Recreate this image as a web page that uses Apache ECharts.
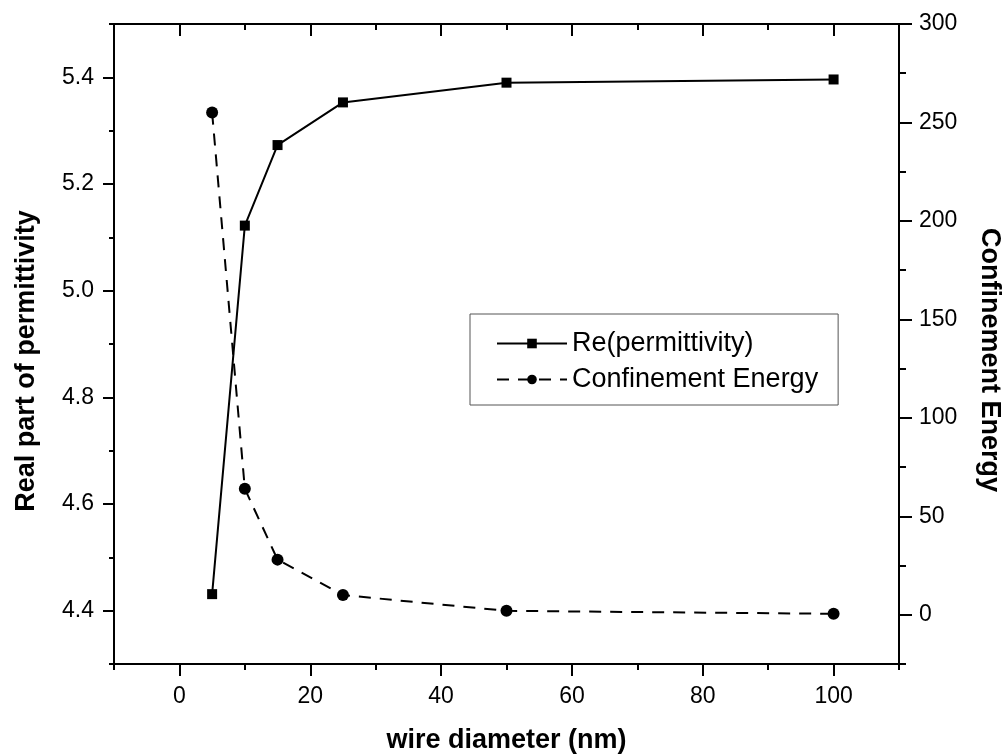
<!DOCTYPE html>
<html>
<head>
<meta charset="utf-8">
<script src="https://cdn.jsdelivr.net/npm/echarts@6/dist/echarts.min.js"></script>
<style>
html,body{margin:0;padding:0;background:#fff;}
#chart{width:1005px;height:756px;}
</style>
</head>
<body>
<div id="chart"></div>
<script>
// ---- data ----
const diameters = [5, 10, 15, 25, 50, 100];
const rePermittivity = [4.431, 5.122, 5.273, 5.353, 5.390, 5.396];
const confinementEnergy = [255, 64, 28, 10, 2, 0.5];

// ---- axes / ticks ----
const xRange = [-10, 110];
const xMajorTicks = [0, 20, 40, 60, 80, 100];
const xMinorTicks = [-10, 10, 30, 50, 70, 90, 110];
const leftRange = [4.3, 5.5];
const leftMajorTicks = [4.4, 4.6, 4.8, 5.0, 5.2, 5.4];
const leftMinorTicks = [4.3, 4.5, 4.7, 4.9, 5.1, 5.3, 5.5];
const rightRange = [-25, 300];
const rightMajorTicks = [0, 50, 100, 150, 200, 250, 300];
const rightMinorTicks = [-25, 25, 75, 125, 175, 225, 275];

const FONT = '"Liberation Sans", Arial, sans-serif';
const BLACK = '#000';
const TICK_FONT = 23;
const TITLE_FONT = 27;

function pairs(xs, ys) { return xs.map((x, i) => [x, ys[i]]); }

function xAxisDef(position, ticks, len, inside, showLine, labels) {
  return {
    type: 'value', position: position, min: xRange[0], max: xRange[1],
    axisLine: { show: showLine, onZero: false, lineStyle: { color: BLACK, width: 2 } },
    axisTick: { show: true, inside: inside, length: len, customValues: ticks, lineStyle: { color: BLACK, width: 2 } },
    axisLabel: labels ? { show: true, customValues: ticks, margin: 21, color: BLACK, fontSize: TICK_FONT, fontFamily: FONT } : { show: false },
    splitLine: { show: false }
  };
}
function yAxisDef(position, range, ticks, len, showLine, labels, fmt) {
  return {
    type: 'value', position: position, min: range[0], max: range[1],
    axisLine: { show: showLine, onZero: false, lineStyle: { color: BLACK, width: 2 } },
    axisTick: { show: true, inside: false, length: len, customValues: ticks, lineStyle: { color: BLACK, width: 2 } },
    axisLabel: labels ? { show: true, customValues: ticks, margin: 20, color: BLACK, fontSize: TICK_FONT, fontFamily: FONT, formatter: fmt } : { show: false },
    splitLine: { show: false }
  };
}

const xAxes = [
  Object.assign(xAxisDef('bottom', xMajorTicks, 12, false, true, true), {
    name: 'wire diameter (nm)', nameLocation: 'middle', nameGap: 63,
    nameTextStyle: { color: BLACK, fontSize: TITLE_FONT, fontWeight: 'bold', fontFamily: FONT }
  }),
  xAxisDef('bottom', xMinorTicks, 6, false, false, false),
  xAxisDef('top', xMajorTicks, 12, true, true, false),
  xAxisDef('top', xMinorTicks, 6, true, false, false)
];
const yAxes = [
  Object.assign(yAxisDef('left', leftRange, leftMajorTicks, 11, true, true, v => v.toFixed(1)), {
    name: 'Real part of permittivity', nameLocation: 'middle', nameGap: 74, nameRotate: 90,
    nameTextStyle: { color: BLACK, fontSize: TITLE_FONT, fontWeight: 'bold', fontFamily: FONT, padding: [0, 34, 0, 0] }
  }),
  yAxisDef('left', leftRange, leftMinorTicks, 5, false, false),
  Object.assign(yAxisDef('right', rightRange, rightMajorTicks, 13, true, true, v => String(v)), {
    name: 'Confinement Energy', nameLocation: 'middle', nameGap: 77, nameRotate: -90,
    nameTextStyle: { color: BLACK, fontSize: TITLE_FONT, fontWeight: 'bold', fontFamily: FONT, padding: [0, 0, 0, 32] }
  }),
  yAxisDef('right', rightRange, rightMinorTicks, 7, false, false)
];

const chart = echarts.init(document.getElementById('chart'), null, { renderer: 'canvas' });
chart.setOption({
  animation: false,
  backgroundColor: '#fff',
  grid: { left: 114, right: 106, top: 24, bottom: 92, containLabel: false, outerBoundsMode: 'none' },
  legend: {
    orient: 'vertical', left: 470, top: 314,
    backgroundColor: '#fff',
    borderColor: '#555', borderWidth: 1,
    padding: [16, 20, 12, 26],
    itemGap: 9, itemWidth: 70, itemHeight: 12,
    textStyle: { color: BLACK, fontSize: 27, fontFamily: FONT },
    data: ['Re(permittivity)', 'Confinement Energy']
  },
  xAxis: xAxes,
  yAxis: yAxes,
  series: [
    {
      name: 'Re(permittivity)', type: 'line', xAxisIndex: 0, yAxisIndex: 0,
      data: pairs(diameters, rePermittivity),
      symbol: 'rect', symbolSize: 10,
      itemStyle: { color: BLACK },
      lineStyle: { color: BLACK, width: 2, type: 'solid' }
    },
    {
      name: 'Confinement Energy', type: 'line', xAxisIndex: 0, yAxisIndex: 2,
      data: pairs(diameters, confinementEnergy),
      symbol: 'circle', symbolSize: 12,
      itemStyle: { color: BLACK },
      lineStyle: { color: BLACK, width: 2, type: [12, 9] }
    }
  ]
});
</script>
</body>
</html>
